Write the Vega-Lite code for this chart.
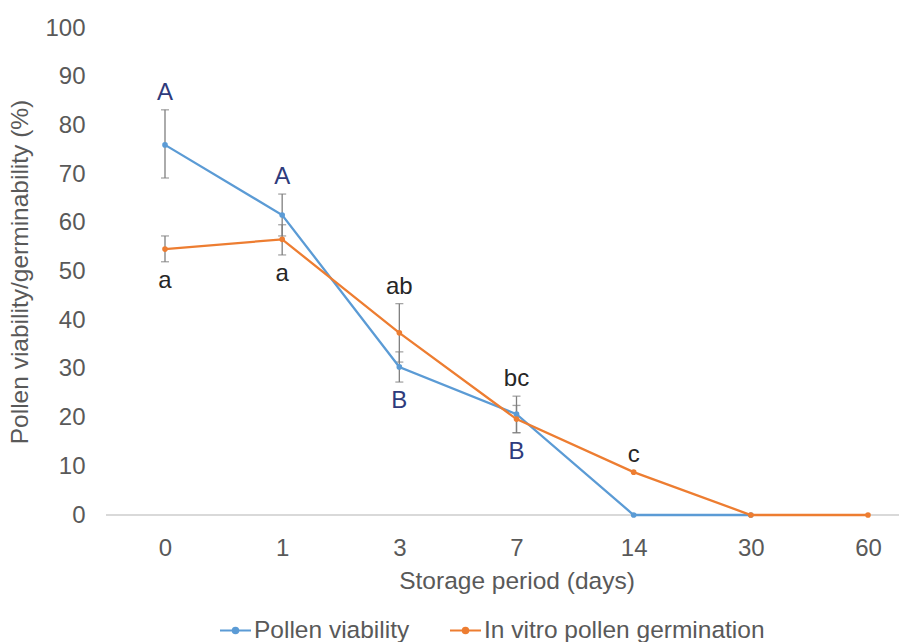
{
  "$schema": "https://vega.github.io/schema/vega-lite/v6.json",
  "width": 793,
  "height": 487,
  "autosize": {"type": "none"},
  "padding": {"left": 106, "top": 28, "right": 0, "bottom": 127},
  "background": "white",
  "config": {
    "view": {"stroke": null},
    "font": "Liberation Sans",
    "axis": {
      "grid": false, "domain": false, "ticks": false,
      "labelFont": "Liberation Sans", "labelFontSize": 24, "labelColor": "#595959",
      "titleFont": "Liberation Sans", "titleFontSize": 24.5, "titleColor": "#595959", "titleFontWeight": "normal"
    }
  },
  "data": {
    "values": [
      {"day": "0", "series": "Pollen viability", "value": 76.0, "lo": 69.2, "hi": 83.2, "letter": "A", "pos": "above"},
      {"day": "1", "series": "Pollen viability", "value": 61.6, "lo": 57.3, "hi": 65.9, "letter": "A", "pos": "above"},
      {"day": "3", "series": "Pollen viability", "value": 30.4, "lo": 27.3, "hi": 33.5, "letter": "B", "pos": "below"},
      {"day": "7", "series": "Pollen viability", "value": 20.7, "lo": 16.9, "hi": 24.4, "letter": "B", "pos": "below"},
      {"day": "14", "series": "Pollen viability", "value": 0, "lo": null, "hi": null, "letter": null, "pos": null},
      {"day": "30", "series": "Pollen viability", "value": 0, "lo": null, "hi": null, "letter": null, "pos": null},
      {"day": "0", "series": "In vitro pollen germination", "value": 54.6, "lo": 52.0, "hi": 57.3, "letter": "a", "pos": "below"},
      {"day": "1", "series": "In vitro pollen germination", "value": 56.6, "lo": 53.4, "hi": 59.6, "letter": "a", "pos": "below"},
      {"day": "3", "series": "In vitro pollen germination", "value": 37.4, "lo": 31.4, "hi": 43.4, "letter": "ab", "pos": "above"},
      {"day": "7", "series": "In vitro pollen germination", "value": 19.7, "lo": 16.9, "hi": 22.5, "letter": "bc", "pos": "above"},
      {"day": "14", "series": "In vitro pollen germination", "value": 8.8, "lo": null, "hi": null, "letter": "c", "pos": "above"},
      {"day": "30", "series": "In vitro pollen germination", "value": 0, "lo": null, "hi": null, "letter": null, "pos": null},
      {"day": "60", "series": "In vitro pollen germination", "value": 0, "lo": null, "hi": null, "letter": null, "pos": null}
    ]
  },
  "encoding": {
    "x": {
      "field": "day", "type": "ordinal",
      "sort": ["0", "1", "3", "7", "14", "30", "60"],
      "scale": {"type": "point", "range": [59, 762], "padding": 0},
      "axis": {"title": "Storage period (days)", "labelAngle": 0, "labelPadding": 21, "titlePadding": 9}
    }
  },
  "layer": [
    {
      "mark": {"type": "rule", "color": "#d9d9d9", "strokeWidth": 1.5},
      "encoding": {"x": null, "y": {"datum": 0, "type": "quantitative", "scale": {"domain": [0, 100]}, "axis": {"title": "Pollen viability/germinability (%)", "values": [0, 10, 20, 30, 40, 50, 60, 70, 80, 90, 100], "labelPadding": 21, "titlePadding": 12}}}
    },
    {
      "transform": [{"filter": "isValid(datum.lo)"}],
      "mark": {"type": "rule", "color": "#7f7f7f", "strokeWidth": 1.3},
      "encoding": {
        "y": {"field": "lo", "type": "quantitative", "scale": {"domain": [0, 100]}, "axis": {"title": "Pollen viability/germinability (%)", "values": [0, 10, 20, 30, 40, 50, 60, 70, 80, 90, 100], "labelPadding": 21, "titlePadding": 12}},
        "y2": {"field": "hi"}
      }
    },
    {
      "transform": [{"filter": "isValid(datum.lo)"}],
      "mark": {"type": "tick", "orient": "horizontal", "color": "#7f7f7f", "size": 8, "thickness": 1.3},
      "encoding": {"y": {"field": "lo", "type": "quantitative", "scale": {"domain": [0, 100]}, "axis": {"title": "Pollen viability/germinability (%)", "values": [0, 10, 20, 30, 40, 50, 60, 70, 80, 90, 100], "labelPadding": 21, "titlePadding": 12}}}
    },
    {
      "transform": [{"filter": "isValid(datum.hi)"}],
      "mark": {"type": "tick", "orient": "horizontal", "color": "#7f7f7f", "size": 8, "thickness": 1.3},
      "encoding": {"y": {"field": "hi", "type": "quantitative", "scale": {"domain": [0, 100]}, "axis": {"title": "Pollen viability/germinability (%)", "values": [0, 10, 20, 30, 40, 50, 60, 70, 80, 90, 100], "labelPadding": 21, "titlePadding": 12}}}
    },
    {
      "transform": [{"filter": "datum.series == 'Pollen viability'"}],
      "mark": {"type": "line", "strokeWidth": 2.3, "interpolate": "linear", "point": {"filled": true, "size": 32}},
      "encoding": {
        "y": {"field": "value", "type": "quantitative", "scale": {"domain": [0, 100]}, "axis": {"title": "Pollen viability/germinability (%)", "values": [0, 10, 20, 30, 40, 50, 60, 70, 80, 90, 100], "labelPadding": 21, "titlePadding": 12}},
        "color": {
          "field": "series", "type": "nominal",
          "scale": {"domain": ["Pollen viability", "In vitro pollen germination"], "range": ["#5B9BD5", "#ED7D31"]},
          "legend": {
            "orient": "none", "direction": "horizontal", "legendX": 113, "legendY": 586, "title": null,
            "symbolType": "M-1,0H1M-0.18,0A0.18,0.18 0 1,0 0.18,0A0.18,0.18 0 1,0 -0.18,0Z",
            "symbolSize": 961, "symbolStrokeWidth": 2, "symbolOpacity": 1,
            "labelFont": "Liberation Sans", "labelFontSize": 24.5, "labelColor": "#595959", "labelLimit": 500,
            "labelOffset": 2, "columnPadding": 36,
            "encode": {"symbols": {"update": {"fill": {"scale": "color", "field": "value"}}}}
          }
        }
      }
    },
    {
      "transform": [{"filter": "datum.series == 'In vitro pollen germination'"}],
      "mark": {"type": "line", "strokeWidth": 2.3, "interpolate": "linear", "point": {"filled": true, "size": 32}},
      "encoding": {
        "y": {"field": "value", "type": "quantitative", "scale": {"domain": [0, 100]}, "axis": {"title": "Pollen viability/germinability (%)", "values": [0, 10, 20, 30, 40, 50, 60, 70, 80, 90, 100], "labelPadding": 21, "titlePadding": 12}},
        "color": {
          "field": "series", "type": "nominal",
          "scale": {"domain": ["Pollen viability", "In vitro pollen germination"], "range": ["#5B9BD5", "#ED7D31"]},
          "legend": {
            "orient": "none", "direction": "horizontal", "legendX": 113, "legendY": 586, "title": null,
            "symbolType": "M-1,0H1M-0.18,0A0.18,0.18 0 1,0 0.18,0A0.18,0.18 0 1,0 -0.18,0Z",
            "symbolSize": 961, "symbolStrokeWidth": 2, "symbolOpacity": 1,
            "labelFont": "Liberation Sans", "labelFontSize": 24.5, "labelColor": "#595959", "labelLimit": 500,
            "labelOffset": 2, "columnPadding": 36,
            "encode": {"symbols": {"update": {"fill": {"scale": "color", "field": "value"}}}}
          }
        }
      }
    },
    {
      "transform": [
        {"joinaggregate": [{"op": "max", "field": "hi", "as": "maxHi"}], "groupby": ["day"]},
        {"filter": "datum.pos == 'above'"},
        {"calculate": "isValid(datum.maxHi) ? datum.maxHi : datum.value", "as": "anchor"}
      ],
      "mark": {"type": "text", "fontSize": 24, "font": "Liberation Sans", "baseline": "middle", "dy": -17},
      "encoding": {
        "y": {"field": "anchor", "type": "quantitative", "scale": {"domain": [0, 100]}, "axis": {"title": "Pollen viability/germinability (%)", "values": [0, 10, 20, 30, 40, 50, 60, 70, 80, 90, 100], "labelPadding": 21, "titlePadding": 12}},
        "text": {"field": "letter"},
        "color": {"condition": {"test": "datum.series == 'Pollen viability'", "value": "#2E3B7C"}, "value": "#262626"}
      }
    },
    {
      "transform": [
        {"joinaggregate": [{"op": "min", "field": "lo", "as": "minLo"}], "groupby": ["day"]},
        {"filter": "datum.pos == 'below'"}
      ],
      "mark": {"type": "text", "fontSize": 24, "font": "Liberation Sans", "baseline": "middle", "dy": 19},
      "encoding": {
        "y": {"field": "minLo", "type": "quantitative", "scale": {"domain": [0, 100]}, "axis": {"title": "Pollen viability/germinability (%)", "values": [0, 10, 20, 30, 40, 50, 60, 70, 80, 90, 100], "labelPadding": 21, "titlePadding": 12}},
        "text": {"field": "letter"},
        "color": {"condition": {"test": "datum.series == 'Pollen viability'", "value": "#2E3B7C"}, "value": "#262626"}
      }
    }
  ]
}
